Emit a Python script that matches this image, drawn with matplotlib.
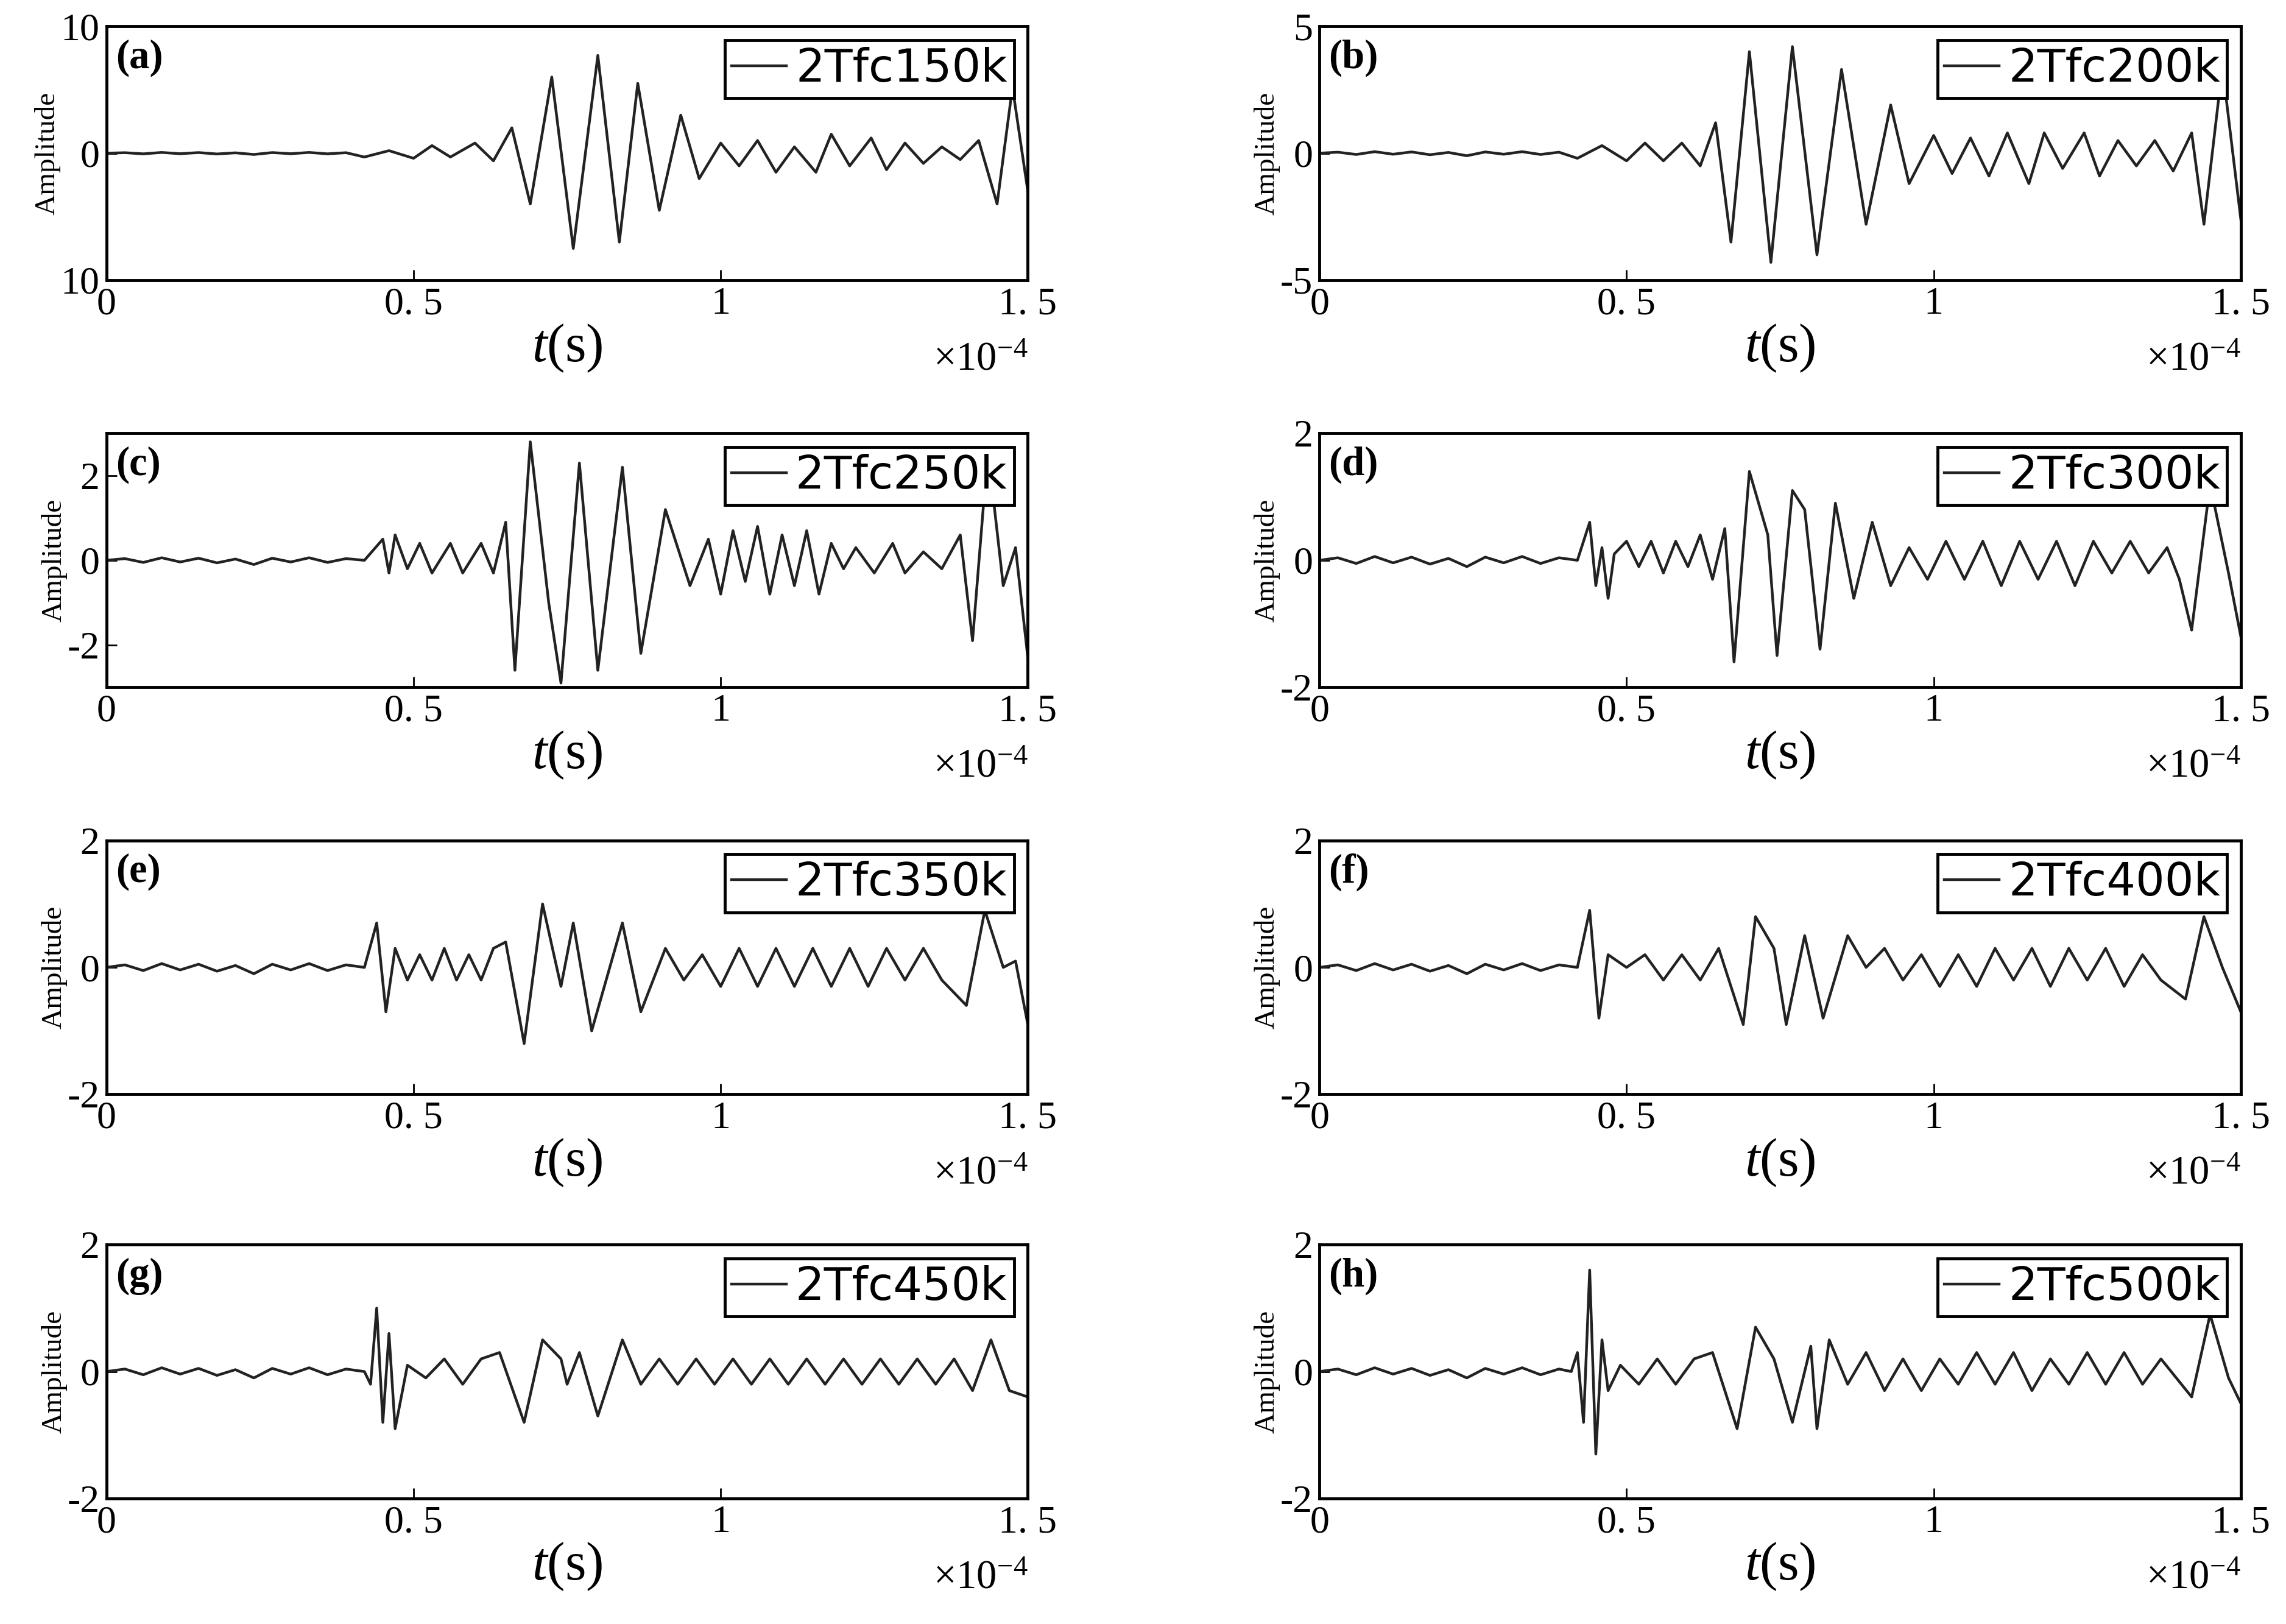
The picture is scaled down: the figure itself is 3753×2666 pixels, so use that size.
import matplotlib
matplotlib.use("Agg")
import matplotlib.pyplot as plt

W, H = 1568, 1113
plt.rcParams['font.family'] = ['Liberation Serif', 'DejaVu Serif']
plt.rcParams['mathtext.fontset'] = 'custom'
plt.rcParams['mathtext.it'] = 'Liberation Serif:italic'
plt.rcParams['mathtext.rm'] = 'Liberation Serif'

noise_t = [0.0, 0.03, 0.06, 0.09, 0.12, 0.15, 0.18, 0.21, 0.24, 0.27, 0.30, 0.33, 0.36, 0.39]
noise_y = [0.0, 0.04, -0.05, 0.06, -0.04, 0.05, -0.06, 0.03, -0.1, 0.05, -0.04, 0.06, -0.05, 0.04]

t_a = [0.42, 0.46, 0.50, 0.53, 0.56, 0.60, 0.63, 0.66, 0.69, 0.725, 0.76, 0.80, 0.835, 0.865, 0.90, 0.935, 0.965, 1.0, 1.03, 1.06, 1.09, 1.12, 1.155, 1.18, 1.21, 1.245, 1.27, 1.30, 1.33, 1.36, 1.39, 1.42, 1.45, 1.475, 1.5]
y_a = [-0.3, 0.2, -0.4, 0.6, -0.3, 0.8, -0.6, 2.0, -4.0, 6.0, -7.5, 7.7, -7.0, 5.5, -4.5, 3.0, -2.0, 0.8, -1.0, 1.0, -1.5, 0.5, -1.5, 1.5, -1.0, 1.2, -1.3, 0.8, -0.8, 0.5, -0.5, 1.0, -4.0, 5.2, -3.0]
t_b = [0.42, 0.46, 0.50, 0.53, 0.56, 0.59, 0.62, 0.645, 0.67, 0.70, 0.735, 0.77, 0.81, 0.85, 0.89, 0.93, 0.96, 1.0, 1.03, 1.06, 1.09, 1.12, 1.155, 1.18, 1.21, 1.245, 1.27, 1.30, 1.33, 1.36, 1.39, 1.42, 1.44, 1.47, 1.5]
y_b = [-0.2, 0.3, -0.3, 0.4, -0.3, 0.4, -0.5, 1.2, -3.5, 4.0, -4.3, 4.2, -4.0, 3.3, -2.8, 1.9, -1.2, 0.7, -0.8, 0.6, -0.9, 0.8, -1.2, 0.8, -0.6, 0.8, -0.9, 0.5, -0.5, 0.5, -0.7, 0.8, -2.8, 3.4, -2.6]
t_c = [0.42, 0.45, 0.46, 0.47, 0.49, 0.51, 0.53, 0.56, 0.58, 0.61, 0.63, 0.65, 0.665, 0.69, 0.72, 0.74, 0.77, 0.80, 0.84, 0.87, 0.91, 0.95, 0.98, 1.0, 1.02, 1.04, 1.06, 1.08, 1.10, 1.12, 1.14, 1.16, 1.18, 1.20, 1.22, 1.25, 1.28, 1.30, 1.33, 1.36, 1.39, 1.41, 1.435, 1.46, 1.48, 1.5]
y_c = [0.0, 0.5, -0.3, 0.6, -0.2, 0.4, -0.3, 0.4, -0.3, 0.4, -0.3, 0.9, -2.6, 2.8, -1.0, -2.9, 2.3, -2.6, 2.2, -2.2, 1.2, -0.6, 0.5, -0.8, 0.7, -0.5, 0.8, -0.8, 0.6, -0.6, 0.7, -0.8, 0.4, -0.2, 0.3, -0.3, 0.4, -0.3, 0.2, -0.2, 0.6, -1.9, 2.6, -0.6, 0.3, -2.3]
t_d = [0.42, 0.44, 0.45, 0.46, 0.47, 0.48, 0.50, 0.52, 0.54, 0.56, 0.58, 0.60, 0.62, 0.64, 0.66, 0.675, 0.70, 0.73, 0.745, 0.77, 0.79, 0.815, 0.84, 0.87, 0.90, 0.93, 0.96, 0.99, 1.02, 1.05, 1.08, 1.11, 1.14, 1.17, 1.20, 1.23, 1.26, 1.29, 1.32, 1.35, 1.38, 1.40, 1.42, 1.45, 1.48, 1.5]
y_d = [0.0, 0.6, -0.4, 0.2, -0.6, 0.1, 0.3, -0.1, 0.3, -0.2, 0.3, -0.1, 0.4, -0.3, 0.5, -1.6, 1.4, 0.4, -1.5, 1.1, 0.8, -1.4, 0.9, -0.6, 0.6, -0.4, 0.2, -0.3, 0.3, -0.3, 0.3, -0.4, 0.3, -0.3, 0.3, -0.4, 0.3, -0.2, 0.3, -0.2, 0.2, -0.3, -1.1, 1.2, -0.2, -1.2]
t_e = [0.42, 0.44, 0.455, 0.47, 0.49, 0.51, 0.53, 0.55, 0.57, 0.59, 0.61, 0.63, 0.65, 0.68, 0.71, 0.74, 0.76, 0.79, 0.84, 0.87, 0.91, 0.94, 0.97, 1.0, 1.03, 1.06, 1.09, 1.12, 1.15, 1.18, 1.21, 1.24, 1.27, 1.30, 1.33, 1.36, 1.40, 1.43, 1.46, 1.48, 1.5]
y_e = [0.0, 0.7, -0.7, 0.3, -0.2, 0.2, -0.2, 0.3, -0.2, 0.2, -0.2, 0.3, 0.4, -1.2, 1.0, -0.3, 0.7, -1.0, 0.7, -0.7, 0.3, -0.2, 0.2, -0.3, 0.3, -0.3, 0.3, -0.3, 0.3, -0.3, 0.3, -0.3, 0.3, -0.2, 0.3, -0.2, -0.6, 0.9, 0.0, 0.1, -0.9]
t_f = [0.42, 0.44, 0.455, 0.47, 0.50, 0.53, 0.56, 0.59, 0.62, 0.65, 0.69, 0.71, 0.74, 0.76, 0.79, 0.82, 0.86, 0.89, 0.92, 0.95, 0.98, 1.01, 1.04, 1.07, 1.10, 1.13, 1.16, 1.19, 1.22, 1.25, 1.28, 1.31, 1.34, 1.37, 1.41, 1.44, 1.47, 1.5]
y_f = [0.0, 0.9, -0.8, 0.2, 0.0, 0.2, -0.2, 0.2, -0.2, 0.3, -0.9, 0.8, 0.3, -0.9, 0.5, -0.8, 0.5, 0.0, 0.3, -0.2, 0.2, -0.3, 0.2, -0.3, 0.3, -0.2, 0.3, -0.3, 0.3, -0.2, 0.3, -0.3, 0.2, -0.2, -0.5, 0.8, 0.0, -0.7]
t_g = [0.42, 0.43, 0.44, 0.45, 0.46, 0.47, 0.49, 0.52, 0.55, 0.58, 0.61, 0.64, 0.68, 0.71, 0.74, 0.75, 0.77, 0.80, 0.84, 0.87, 0.90, 0.93, 0.96, 0.99, 1.02, 1.05, 1.08, 1.11, 1.14, 1.17, 1.20, 1.23, 1.26, 1.29, 1.32, 1.35, 1.38, 1.41, 1.44, 1.47, 1.5]
y_g = [0.0, -0.2, 1.0, -0.8, 0.6, -0.9, 0.1, -0.1, 0.2, -0.2, 0.2, 0.3, -0.8, 0.5, 0.2, -0.2, 0.3, -0.7, 0.5, -0.2, 0.2, -0.2, 0.2, -0.2, 0.2, -0.2, 0.2, -0.2, 0.2, -0.2, 0.2, -0.2, 0.2, -0.2, 0.2, -0.2, 0.2, -0.3, 0.5, -0.3, -0.4]
t_h = [0.41, 0.42, 0.43, 0.44, 0.45, 0.46, 0.47, 0.49, 0.52, 0.55, 0.58, 0.61, 0.64, 0.68, 0.71, 0.74, 0.77, 0.80, 0.81, 0.83, 0.86, 0.89, 0.92, 0.95, 0.98, 1.01, 1.04, 1.07, 1.10, 1.13, 1.16, 1.19, 1.22, 1.25, 1.28, 1.31, 1.34, 1.37, 1.42, 1.45, 1.48, 1.5]
y_h = [0.0, 0.3, -0.8, 1.6, -1.3, 0.5, -0.3, 0.1, -0.2, 0.2, -0.2, 0.2, 0.3, -0.9, 0.7, 0.2, -0.8, 0.4, -0.9, 0.5, -0.2, 0.3, -0.3, 0.2, -0.3, 0.2, -0.2, 0.3, -0.2, 0.3, -0.3, 0.2, -0.2, 0.3, -0.2, 0.3, -0.2, 0.2, -0.4, 0.9, -0.1, -0.5]

panels = [
    ("(a)", "2Tfc150k", t_a, y_a, (-10, 10), [-10, 0, 10], ["10", "0", "10"]),
    ("(b)", "2Tfc200k", t_b, y_b, (-5, 5), [-5, 0, 5], ["-5", "0", "5"]),
    ("(c)", "2Tfc250k", t_c, y_c, (-3, 3), [-2, 0, 2], ["-2", "0", "2"]),
    ("(d)", "2Tfc300k", t_d, y_d, (-2, 2), [-2, 0, 2], ["-2", "0", "2"]),
    ("(e)", "2Tfc350k", t_e, y_e, (-2, 2), [-2, 0, 2], ["-2", "0", "2"]),
    ("(f)", "2Tfc400k", t_f, y_f, (-2, 2), [-2, 0, 2], ["-2", "0", "2"]),
    ("(g)", "2Tfc450k", t_g, y_g, (-2, 2), [-2, 0, 2], ["-2", "0", "2"]),
    ("(h)", "2Tfc500k", t_h, y_h, (-2, 2), [-2, 0, 2], ["-2", "0", "2"]),
]
xticks = [0, 0.5, 1, 1.5]
xticklabels = ["0", "0. 5", "1", "1. 5"]

fig = plt.figure(figsize=(37.53, 26.66), dpi=100)
lefts = [73, 905]
tops = [18, 297, 576, 853]
aw, ah = 632, 174
for i, (lab, leg, t, y, yl, yt, ytl) in enumerate(panels):
    r, c = divmod(i, 2)
    x0 = lefts[c]; y0 = tops[r]
    ax = fig.add_axes([x0 / W, 1 - (y0 + ah) / H, aw / W, ah / H])
    ax.plot(noise_t + t, noise_y + y, color='#222222', lw=3.2, label=leg)
    ax.set_xlim(0, 1.5)
    ax.set_ylim(*yl)
    ax.set_xticks(xticks)
    ax.set_xticklabels(xticklabels, fontsize=46)
    ax.set_yticks(yt)
    ax.set_yticklabels(ytl, fontsize=46)
    ax.tick_params(direction='in', length=12, width=2, pad=8)
    for s in ax.spines.values():
        s.set_linewidth(3.5)
    ax.set_ylabel("Amplitude", fontsize=34, labelpad=0)
    ax.set_xlabel(r"$t$(s)", fontsize=64, labelpad=0)
    ax.text(0.01, 0.95, lab, transform=ax.transAxes, fontsize=48, fontweight='bold', va='top', ha='left')
    lg = ax.legend(loc='upper right', prop={'family': 'DejaVu Sans', 'size': 54},
                   handlelength=1.2, handletextpad=0.2, fancybox=False, edgecolor='black',
                   framealpha=1, borderaxespad=0.3, borderpad=0.15)
    lg.get_frame().set_linewidth(3.5)
    ax.text(1.0, -0.24, r"$\times10^{-4}$", transform=ax.transAxes, fontsize=48, ha='right', va='top')

fig.savefig("out.png", dpi=100)
